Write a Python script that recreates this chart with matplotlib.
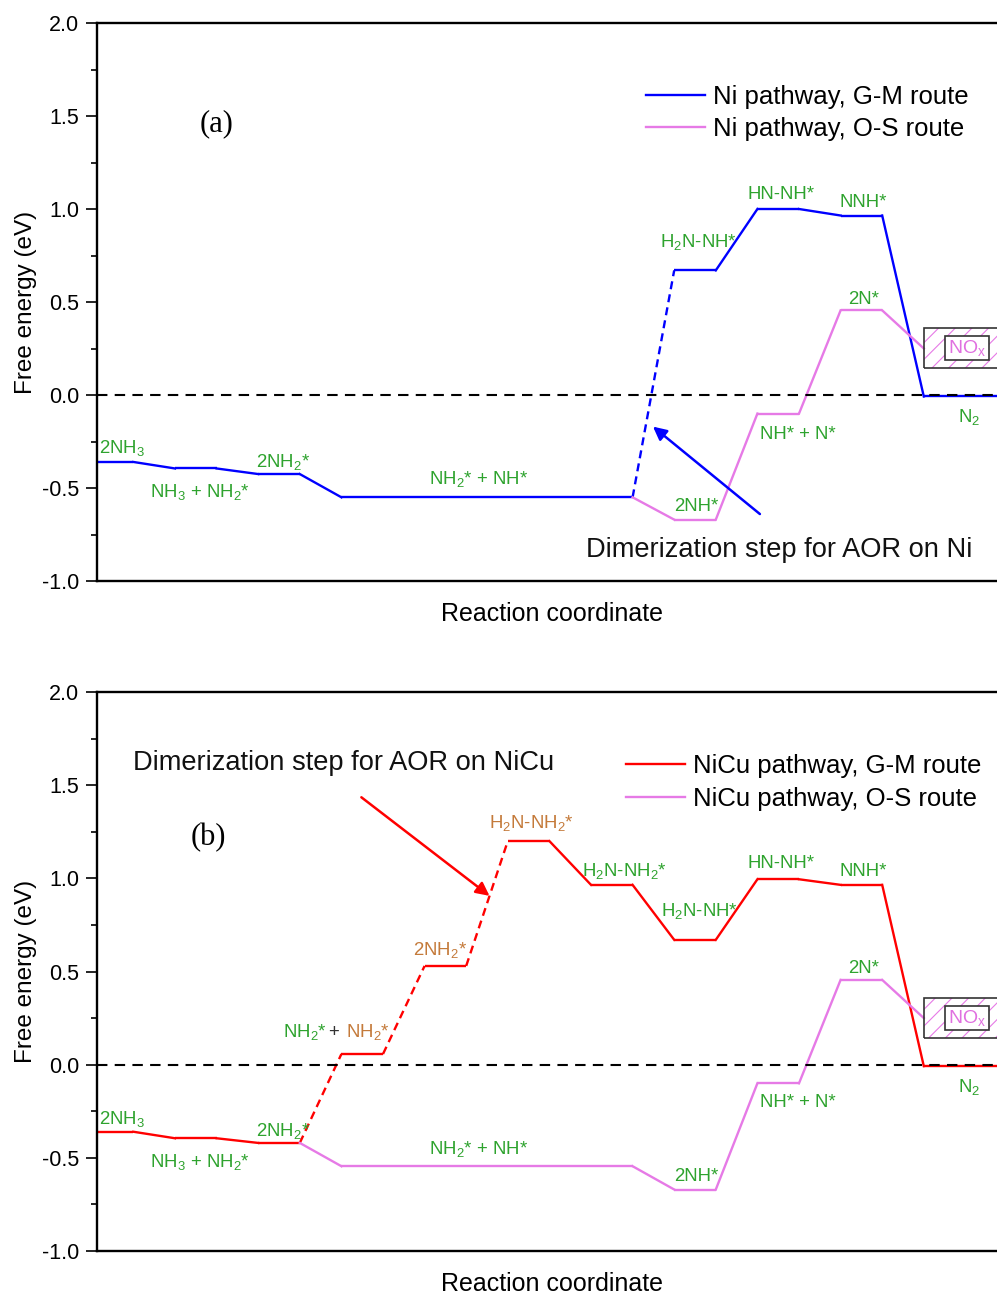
import matplotlib
matplotlib.use('Agg')
import matplotlib.pyplot as plt
from matplotlib.patches import Rectangle
from matplotlib.ticker import MultipleLocator, FormatStrFormatter

plt.rcParams['font.family'] = ['Liberation Sans', 'DejaVu Sans']
plt.rcParams['mathtext.default'] = 'regular'
plt.rcParams['axes.unicode_minus'] = False
plt.rcParams['hatch.linewidth'] = 0.8

# ---- free energies (eV) of each intermediate ----
# (a) Ni
ni_gm_states = ['2NH3', 'NH3+NH2*', '2NH2*', 'NH2*+NH*', 'H2N-NH*', 'HN-NH*', 'NNH*', 'N2']
ni_gm_energy = [-0.36, -0.395, -0.425, -0.55, 0.67, 1.00, 0.965, -0.008]
ni_os_states = ['NH2*+NH*', '2NH*', 'NH*+N*', '2N*', 'NOx']
ni_os_energy = [-0.55, -0.67, -0.10, 0.455, 0.25]

# (b) NiCu
nicu_gm_states = ['2NH3', 'NH3+NH2*', '2NH2*', 'NH2*+NH2*', '2NH2*', 'H2N-NH2*',
                  'H2N-NH2*', 'H2N-NH*', 'HN-NH*', 'NNH*', 'N2']
nicu_gm_energy = [-0.36, -0.395, -0.42, 0.057, 0.53, 1.20, 0.965, 0.67, 0.995, 0.965, -0.008]
nicu_os_states = ['2NH2*', 'NH2*+NH*', '2NH*', 'NH*+N*', '2N*', 'NOx']
nicu_os_energy = [-0.42, -0.545, -0.67, -0.10, 0.455, 0.25]

# where each level sits along the reaction coordinate (start, end)
ni_gm_slots = [(0, 0.5), (1, 1.5), (2, 2.5), (3, 6.5), (7, 7.5), (8, 8.5), (9, 9.5), (10, 11.5)]
ni_os_slots = [(6.5, 6.5), (7, 7.5), (8, 8.5), (9, 9.5), (10, 10)]
nicu_gm_slots = [(0, 0.5), (1, 1.5), (2, 2.5), (3, 3.5), (4, 4.5), (5, 5.5), (6, 6.5),
                 (7, 7.5), (8, 8.5), (9, 9.5), (10, 11.5)]
nicu_os_slots = [(2.5, 2.5), (3, 6.5), (7, 7.5), (8, 8.5), (9, 9.5), (10, 10)]

ni_dashed = [3]          # connector index drawn dashed (dimerization)
nicu_dashed = [2, 3, 4]

GREEN = '#2ea32e'
BROWN = '#c47a3a'
PINK = '#e67ae6'
BLUE = '#0000ff'
RED = '#ff0000'

lbl_fs = 13.4


def draw_path(ax, slots, energy, color, dashed=(), label=None):
    for i, ((x0, x1), e) in enumerate(zip(slots, energy)):
        if x1 > x0:
            ax.plot([x0, x1], [e, e], color=color, lw=1.7, solid_capstyle='butt', zorder=2)
        if i + 1 < len(slots):
            nx0 = slots[i + 1][0]
            ne = energy[i + 1]
            ls = (0, (3.4, 2.2)) if i in dashed else '-'
            ax.plot([x1, nx0], [e, ne], color=color, lw=1.7, ls=ls, zorder=2)
    # proxy for the legend
    ax.plot([], [], color=color, lw=1.7, label=label)


def style_axes(ax):
    ax.set_xlim(0.0625, 11.0)
    ax.set_ylim(-1.0, 2.0)
    ax.yaxis.set_major_locator(MultipleLocator(0.5))
    ax.yaxis.set_minor_locator(MultipleLocator(0.25))
    ax.yaxis.set_major_formatter(FormatStrFormatter('%.1f'))
    ax.set_xticks([])
    ax.tick_params(axis='y', which='major', direction='out', length=7.7, width=1.2,
                   labelsize=15.5, pad=5)
    ax.tick_params(axis='y', which='minor', direction='out', length=4, width=1.2)
    for s in ax.spines.values():
        s.set_linewidth(1.7)
    ax.set_ylabel('Free energy (eV)', fontsize=17.5)
    ax.yaxis.set_label_coords(-0.066, 0.5)
    ax.set_xlabel('Reaction coordinate', fontsize=18, labelpad=15)
    ax.axhline(0, color='black', lw=1.5, ls=(0, (5, 3.5)), zorder=3)


def nox_box(ax):
    ax.add_patch(Rectangle((10.0, 0.145), 1.5, 0.215, facecolor='none', edgecolor=PINK,
                           lw=0, hatch='//', zorder=4))
    ax.add_patch(Rectangle((10.0, 0.145), 1.5, 0.215, facecolor='none', edgecolor='#333333',
                           lw=1.2, zorder=5))
    ax.add_patch(Rectangle((10.25, 0.188), 0.53, 0.129, facecolor='white', edgecolor='#333333',
                           lw=1.2, zorder=6))
    ax.text(10.515, 0.252, 'NO$_x$', color='#e070e0', fontsize=14, ha='center', va='center',
            zorder=7)


def put_labels(ax, texts, xy, color, ha='center'):
    for t, (x, y) in zip(texts, xy):
        ax.text(x, y, t, color=color, fontsize=lbl_fs, ha=ha, va='baseline', zorder=4)


fig = plt.figure(figsize=(9.97, 12.95), dpi=100)
ax_a = fig.add_axes([97 / 997, 1 - 581 / 1295, 910 / 997, 558 / 1295])
ax_b = fig.add_axes([97 / 997, 1 - 1251 / 1295, 910 / 997, 559 / 1295])

legend_kw = dict(loc='upper left', frameon=False, fontsize=18.5, handlelength=2.3,
                 handletextpad=0.3, labelspacing=0.33, borderpad=0, borderaxespad=0)

# ---------------- (a) Ni ----------------
ax = ax_a
style_axes(ax)
draw_path(ax, ni_gm_slots, ni_gm_energy, BLUE, ni_dashed, 'Ni pathway, G-M route')
draw_path(ax, ni_os_slots, ni_os_energy, PINK, (), 'Ni pathway, O-S route')
nox_box(ax)

put_labels(ax, ['2NH$_3$'], [(0.087, -0.314)], GREEN, ha='left')
put_labels(ax,
           ['NH$_3$ + NH$_2$*', '2NH$_2$*', 'NH$_2$* + NH*', '2NH*', 'NH* + N*',
            'H$_2$N-NH*', 'HN-NH*', 'NNH*', '2N*', 'N$_2$'],
           [(1.30, -0.547), (2.30, -0.385), (4.65, -0.478), (7.26, -0.622), (8.48, -0.235),
            (7.29, 0.797), (8.28, 1.052), (9.27, 1.012), (9.27, 0.489), (10.55, -0.143)],
           GREEN)

ax.annotate('', xy=(6.745, -0.17), xytext=(8.03, -0.64),
            arrowprops=dict(arrowstyle='-|>', color=BLUE, lw=1.8, mutation_scale=20,
                            shrinkA=0, shrinkB=0), zorder=4)
ax.text(8.26, -0.869, 'Dimerization step for AOR on Ni', fontsize=19.6, ha='center',
        va='baseline', color='#111111')
ax.text(1.505, 1.46, '(a)', fontsize=22, family='Liberation Serif', ha='center', va='center')
ax.legend(bbox_to_anchor=(0.6033, 0.889), **legend_kw)

# ---------------- (b) NiCu ----------------
ax = ax_b
style_axes(ax)
draw_path(ax, nicu_gm_slots, nicu_gm_energy, RED, nicu_dashed, 'NiCu pathway, G-M route')
draw_path(ax, nicu_os_slots, nicu_os_energy, PINK, (), 'NiCu pathway, O-S route')
nox_box(ax)

put_labels(ax, ['2NH$_3$'], [(0.087, -0.32)], GREEN, ha='left')
put_labels(ax,
           ['NH$_3$ + NH$_2$*', '2NH$_2$*', 'NH$_2$* + NH*', '2NH*', 'NH* + N*',
            'H$_2$N-NH$_2$*', 'H$_2$N-NH*', 'HN-NH*', 'NNH*', '2N*', 'N$_2$'],
           [(1.30, -0.547), (2.30, -0.385), (4.65, -0.482), (7.26, -0.622), (8.48, -0.225),
            (6.40, 1.013), (7.30, 0.798), (8.28, 1.054), (9.27, 1.015), (9.27, 0.494),
            (10.55, -0.145)],
           GREEN)
put_labels(ax, ['2NH$_2$*', 'H$_2$N-NH$_2$*'], [(4.19, 0.589), (5.28, 1.269)], BROWN)
# two-coloured label: NH2* (Ni) + NH2* (Cu)
ax.text(2.826, 0.150, 'NH$_2$*', color=GREEN, fontsize=lbl_fs, ha='right', va='baseline')
ax.text(2.905, 0.150, '+', color='#333333', fontsize=lbl_fs, ha='center', va='baseline')
ax.text(3.055, 0.150, 'NH$_2$*', color=BROWN, fontsize=lbl_fs, ha='left', va='baseline')

ax.annotate('', xy=(4.78, 0.906), xytext=(3.24, 1.435),
            arrowprops=dict(arrowstyle='-|>', color=RED, lw=1.8, mutation_scale=20,
                            shrinkA=0, shrinkB=0), zorder=4)
ax.text(3.02, 1.582, 'Dimerization step for AOR on NiCu', fontsize=19.6, ha='center',
        va='baseline', color='#111111')
ax.text(1.40, 1.217, '(b)', fontsize=22, family='Liberation Serif', ha='center', va='center')
ax.legend(bbox_to_anchor=(0.5813, 0.889), **legend_kw)

fig.savefig('out.png', dpi=100)
